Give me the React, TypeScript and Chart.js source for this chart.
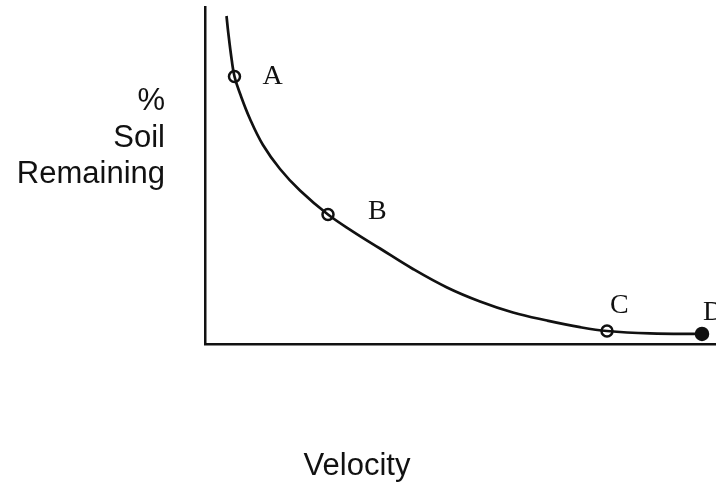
import React, { useEffect, useRef } from "react";
import { Chart, registerables } from "chart.js";

Chart.register(...registerables);

// Curve (velocity 0–100, % soil remaining 0–100)
const CURVE_VELOCITY = [4.21, 4.56, 5.23, 5.77, 6.85, 8.81, 11.35, 14.68, 18.59, 24.07, 28.96, 34.25, 40.7, 47.36, 53.82, 60.27, 66.93, 73.39, 78.67, 87.08, 97.26];
const CURVE_SOIL = [97.33, 92.28, 84.27, 79.38, 74.33, 66.77, 59.05, 51.93, 45.55, 38.43, 33.38, 28.34, 22.26, 16.77, 12.61, 9.35, 6.97, 5.0, 3.86, 3.15, 3.0];

// Marked points
const POINT_LABELS = ["A", "B", "C", "D"];
const POINT_VELOCITY = [5.77, 24.07, 78.67, 97.26];
const POINT_SOIL = [79.38, 38.43, 3.86, 3.0];
const POINT_FILLED = [false, false, false, true];

const Y_TITLE_LINES = ["%", "Soil", "Remaining"];
const X_TITLE = "Velocity";

// label placement relative to the marker (pixels)
const LABEL_OFFSETS = [
  { dx: 28, dy: 0 },
  { dx: 40, dy: -3 },
  { dx: 3, dy: -25 },
  { dx: 1, dy: -21 },
];

const annotate = {
  id: "annotate",
  afterDraw(chart: any) {
    const ctx = chart.ctx;
    ctx.save();
    ctx.fillStyle = "#111";
    const meta = chart.getDatasetMeta(1);
    ctx.font = '28px "Liberation Serif", "Times New Roman", serif';
    ctx.textAlign = "left";
    ctx.textBaseline = "middle";
    POINT_LABELS.forEach((lab, i) => {
      const el = meta.data[i];
      if (!el) return;
      ctx.fillText(lab, el.x + LABEL_OFFSETS[i].dx, el.y + LABEL_OFFSETS[i].dy);
    });
    ctx.font = '31px "Liberation Sans", Arial, sans-serif';
    ctx.textAlign = "right";
    ctx.textBaseline = "alphabetic";
    Y_TITLE_LINES.forEach((t, i) => {
      ctx.fillText(t, 165, 110 + i * 36.5);
    });
    ctx.textAlign = "center";
    ctx.fillText(X_TITLE, 357, 475);
    ctx.restore();
  },
};

export default function App() {
  const ref = useRef<HTMLCanvasElement | null>(null);
  useEffect(() => {
    if (!ref.current) return;
    const chart = new Chart(ref.current, {
      type: "scatter",
      data: {
        datasets: [
          {
            data: CURVE_VELOCITY.map((v, i) => ({ x: v, y: CURVE_SOIL[i] })),
            showLine: true,
            borderColor: "#111",
            borderWidth: 2.7,
            pointRadius: 0,
            tension: 0.4,
            fill: false,
          } as any,
          {
            data: POINT_VELOCITY.map((v, i) => ({ x: v, y: POINT_SOIL[i] })),
            showLine: false,
            pointRadius: POINT_FILLED.map((f) => (f ? 6 : 5.5)),
            pointBorderWidth: 2.5,
            pointBorderColor: "#111",
            pointBackgroundColor: POINT_FILLED.map((f) => (f ? "#111" : "rgba(255,255,255,0)")),
          } as any,
        ],
      },
      options: {
        animation: false,
        responsive: false,
        maintainAspectRatio: false,
        layout: { autoPadding: false, padding: { left: 205, top: 7, right: 0, bottom: 140 } },
        plugins: { legend: { display: false }, tooltip: { enabled: false } },
        scales: {
          x: {
            type: "linear",
            min: 0,
            max: 100,
            grid: { display: false, drawTicks: false },
            ticks: { display: false },
            border: { display: true, color: "#111", width: 2.5 },
            afterFit: (s: any) => {
              s.height = 0;
            },
          },
          y: {
            type: "linear",
            min: 0,
            max: 100,
            grid: { display: false, drawTicks: false },
            ticks: { display: false },
            border: { display: true, color: "#111", width: 2.5 },
            afterFit: (s: any) => {
              s.width = 0;
            },
          },
        },
      },
      plugins: [annotate],
    });
    return () => chart.destroy();
  }, []);
  return (
    <div style={{ position: "fixed", left: 0, top: 0, width: 716, height: 484, background: "#fff" }}>
      <canvas ref={ref} width={716} height={484} style={{ display: "block", width: 716, height: 484 }} />
    </div>
  );
}
